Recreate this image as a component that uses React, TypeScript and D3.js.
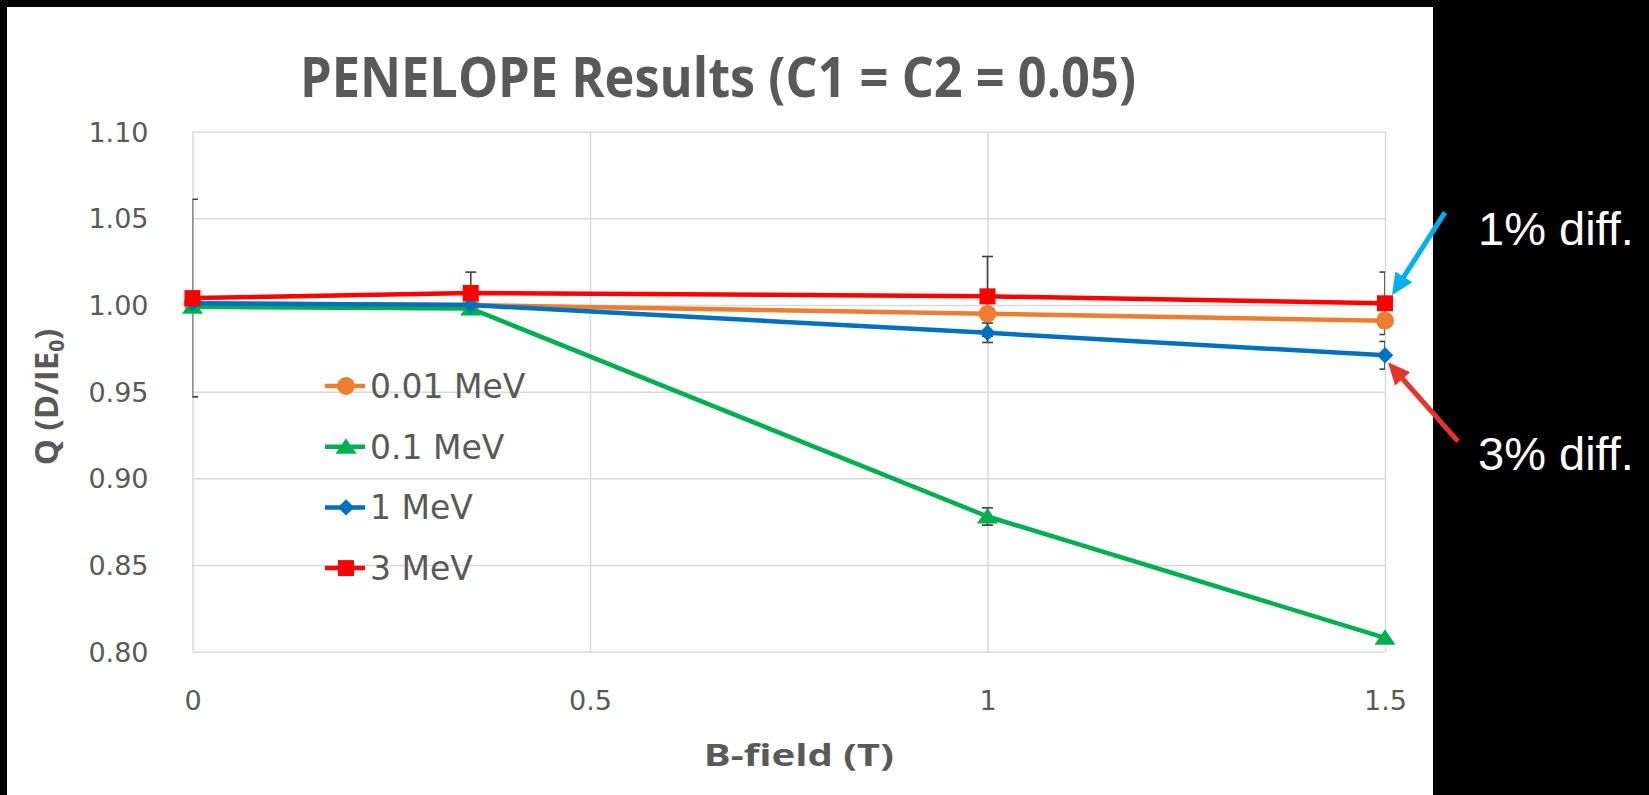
import React, { useEffect, useRef } from "react";
import * as d3 from "d3";

// B-field (T) values where the dose ratio was computed
const bField = [0, 0.35, 1, 1.5];
const seriesNames = ["0.01 MeV", "0.1 MeV", "1 MeV", "3 MeV"];
const q001 = [1.001, 1.0, 0.995, 0.991];
const q01 = [0.999, 0.998, 0.878, 0.808];
const q1 = [1.001, 1.0, 0.984, 0.971];
const q3 = [1.004, 1.007, 1.005, 1.001];
// error bar half-widths
const err001 = [0, 0, 0.003, 0.004];
const err01 = [0, 0, 0.005, 0];
const err1 = [0, 0, 0.0056, 0.008];
const err3 = [0.057, 0.012, 0.023, 0.018];
const yTicks = [0.8, 0.85, 0.9, 0.95, 1.0, 1.05, 1.1];
const xTicks = [0, 0.5, 1, 1.5];
const colors = ["#ED7D31", "#00B050", "#0070C0", "#FF0000"];
const shapes = ["circle", "triangle", "diamond", "square"];
const notes = ["1% diff.", "3% diff."];

const W = 1649, H = 795;
const left = 192.5, right = 1385, top = 131.7, bottom = 651.7;

const triangle = {
  draw(ctx: any) {
    ctx.moveTo(0, -8.5);
    ctx.lineTo(10.5, 7);
    ctx.lineTo(-10.5, 7);
    ctx.closePath();
  },
};

function markerPath(shape: string) {
  if (shape === "circle") return d3.symbol().type(d3.symbolCircle).size(250)();
  if (shape === "square") return d3.symbol().type(d3.symbolSquare).size(256)();
  if (shape === "diamond") return d3.symbol().type(d3.symbolSquare).size(135)();
  return d3.symbol().type(triangle as any)();
}

export default function App() {
  const ref = useRef<SVGSVGElement>(null);

  useEffect(() => {
    const svg = d3.select(ref.current);
    svg.selectAll("*").remove();

    const series = [q001, q01, q1, q3];
    const errs = [err001, err01, err1, err3];

    const x = d3.scaleLinear().domain([0, 1.5]).range([left, right]);
    const y = d3.scaleLinear().domain([0.8, 1.1]).range([bottom, top]);

    svg.append("rect").attr("width", W).attr("height", H).attr("fill", "#000");
    svg.append("rect").attr("x", 7).attr("y", 7).attr("width", 1426).attr("height", 788).attr("fill", "#fff");

    svg.append("defs").append("clipPath").attr("id", "plotclip")
      .append("rect").attr("x", left).attr("y", top - 20)
      .attr("width", right - left).attr("height", bottom - top + 40);

    // axes with gridlines
    const yAxis = d3.axisLeft(y).tickValues(yTicks)
      .tickFormat(d3.format(".2f") as any)
      .tickSize(-(right - left)).tickPadding(44);
    const gy = svg.append("g").attr("transform", "translate(" + left + ",0)").call(yAxis);
    gy.select(".domain").remove();
    gy.selectAll("line").attr("stroke", "#d9d9d9").attr("stroke-width", 1.5);
    gy.selectAll("text").attr("fill", "#595959")
      .attr("font-family", "DejaVu Sans").attr("font-size", 27).attr("dy", "0.35em");

    const xAxis = d3.axisBottom(x).tickValues(xTicks)
      .tickFormat((d: any) => String(d))
      .tickSize(-(bottom - top)).tickPadding(39);
    const gx = svg.append("g").attr("transform", "translate(0," + bottom + ")").call(xAxis);
    gx.select(".domain").remove();
    gx.selectAll("line").attr("stroke", "#d9d9d9").attr("stroke-width", 1.5);
    gx.selectAll("text").attr("fill", "#595959")
      .attr("font-family", "DejaVu Sans").attr("font-size", 27);

    // error bars
    const eg = svg.append("g").attr("clip-path", "url(#plotclip)");
    series.forEach((s, i) => {
      s.forEach((v, j) => {
        const e = errs[i][j];
        if (!e) return;
        const cx = x(bField[j]);
        const g = eg.append("g").attr("stroke", "#404040").attr("stroke-width", 1.6);
        g.append("line").attr("x1", cx).attr("x2", cx).attr("y1", y(v + e)).attr("y2", y(v - e));
        [v + e, v - e].forEach((w) => {
          g.append("line").attr("x1", cx - 5.5).attr("x2", cx + 5.5).attr("y1", y(w)).attr("y2", y(w));
        });
      });
    });

    // lines and markers
    const line = d3.line<number>().x((d, j) => x(bField[j])).y((d) => y(d));
    series.forEach((s, i) => {
      svg.append("path").datum(s).attr("d", line).attr("fill", "none")
        .attr("stroke", colors[i]).attr("stroke-width", 4.5).attr("stroke-linejoin", "round");
      svg.append("g").selectAll("path").data(s).join("path")
        .attr("d", markerPath(shapes[i]))
        .attr("transform", (d, j) => "translate(" + x(bField[j]) + "," + y(d) + ")" + (shapes[i] === "diamond" ? " rotate(45)" : ""))
        .attr("fill", colors[i]);
    });

    // legend
    seriesNames.forEach((name, i) => {
      const ly = 386 + i * 60.7;
      const g = svg.append("g").attr("transform", "translate(325," + ly + ")");
      g.append("line").attr("x1", 0).attr("x2", 40).attr("stroke", colors[i]).attr("stroke-width", 4.5);
      g.append("path").attr("d", markerPath(shapes[i]))
        .attr("transform", "translate(21,0)" + (shapes[i] === "diamond" ? " rotate(45)" : ""))
        .attr("fill", colors[i]);
      g.append("text").attr("x", 45).attr("dy", "0.36em").text(name)
        .attr("font-family", "DejaVu Sans").attr("font-size", 33).attr("fill", "#595959");
    });

    // titles
    svg.append("text").attr("x", 718).attr("y", 97).attr("text-anchor", "middle")
      .attr("font-family", "'Liberation Sans Narrow', 'Open Sans', sans-serif").attr("font-weight", "bold")
      .attr("font-size", 56).attr("fill", "#595959")
      .attr("textLength", 836).attr("lengthAdjust", "spacingAndGlyphs")
      .text("PENELOPE Results (C1 = C2 = 0.05)");

    svg.append("text").attr("x", (left + right) / 2 + 10).attr("y", 766).attr("text-anchor", "middle")
      .attr("font-family", "'Open Sans', sans-serif").attr("font-weight", "bold")
      .attr("font-size", 31).attr("fill", "#595959")
      .attr("textLength", 190).attr("lengthAdjust", "spacingAndGlyphs")
      .text("B-field (T)");

    const yt = svg.append("text").attr("transform", "translate(58,397) rotate(-90)")
      .attr("text-anchor", "middle")
      .attr("font-family", "'Open Sans', sans-serif").attr("font-weight", "bold")
      .attr("font-size", 33).attr("fill", "#595959");
    yt.append("tspan").text("Q (D/IE");
    yt.append("tspan").attr("font-size", 21).attr("dy", 6).text("0");
    yt.append("tspan").attr("dy", -6).text(")");

    // annotations pointing at the 1.5 T points
    const arrows = [
      { tip: [x(1.5) + 7, y(q3[3]) - 8], tail: [x(1.5) + 60, y(q3[3]) - 91], color: "#00B0F0", ty: 245 },
      { tip: [x(1.5) + 3, y(q1[3]) + 7], tail: [x(1.5) + 73, y(q1[3]) + 86], color: "#E8332A", ty: 470 },
    ];
    arrows.forEach((a, i) => {
      const dx = a.tip[0] - a.tail[0], dy = a.tip[1] - a.tail[1];
      const len = Math.sqrt(dx * dx + dy * dy);
      const ux = dx / len, uy = dy / len;
      const hl = 22, hw = 10;
      const bx = a.tip[0] - ux * hl, by = a.tip[1] - uy * hl;
      svg.append("line").attr("x1", a.tail[0]).attr("y1", a.tail[1]).attr("x2", bx + ux * 2).attr("y2", by + uy * 2)
        .attr("stroke", a.color).attr("stroke-width", 5);
      svg.append("path")
        .attr("d", "M" + a.tip[0] + "," + a.tip[1] + "L" + (bx - uy * hw) + "," + (by + ux * hw) + "L" + (bx + uy * hw) + "," + (by - ux * hw) + "Z")
        .attr("fill", a.color);
      svg.append("text").attr("x", 1478).attr("y", a.ty).text(notes[i])
        .attr("font-family", "'Liberation Sans', Arial, sans-serif").attr("font-size", 47).attr("fill", "#fff");
    });
  }, []);

  return (
    <svg ref={ref} width={W} height={H} style={{ position: "absolute", left: 0, top: 0, display: "block" }} />
  );
}
